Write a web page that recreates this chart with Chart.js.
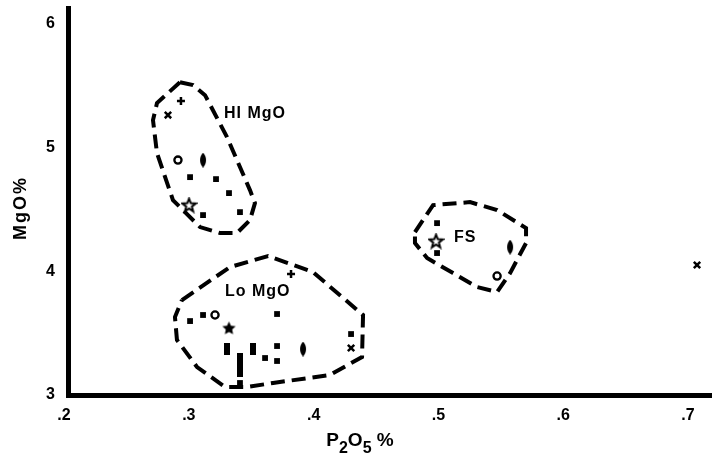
<!DOCTYPE html>
<html>
<head>
<meta charset="utf-8">
<script src="https://cdn.jsdelivr.net/npm/chart.js@4.4.1/dist/chart.umd.min.js"></script>
<style>
  html, body { margin: 0; padding: 0; background: #fff; }
</style>
</head>
<body>
<canvas id="chart" width="712" height="458"></canvas>
<script>
const xTicks = [0.2, 0.3, 0.4, 0.5, 0.6, 0.7];
const yTicks = [3, 4, 5, 6];

// [P2O5 %, MgO %]
const squarePts = [
  [0.2978, 4.762], [0.3186, 4.746], [0.3290, 4.633], [0.3082, 4.455], [0.3378, 4.479],
  [0.2978, 3.598], [0.3082, 3.647], [0.3675, 3.655], [0.3579, 3.299], [0.3675, 3.396],
  [0.3675, 3.275], [0.4268, 3.493], [0.3378, 3.097],
  [0.4957, 4.390], [0.4957, 4.148]
];
const openStarPts = [[0.2970, 4.536], [0.4949, 4.245]];
const solidStarPts = [[0.3290, 3.542]];
const plusPts = [[0.2905, 5.377], [0.3787, 3.978]];
const xPts = [[0.2801, 5.264], [0.4268, 3.380], [0.7040, 4.051]];
const circlePts = [[0.2881, 4.900], [0.3178, 3.647], [0.5438, 3.962]];
const lensPts = [[0.3082, 4.900], [0.3883, 3.372], [0.5542, 4.196]];
const barPts = [[0.3274, 3.372], [0.3482, 3.372]];
const columnPts = [[0.3378, 3.243]];

// dashed field outlines
const hiOutline = [
  [0.2897, 5.530], [0.2713, 5.361], [0.2681, 5.223], [0.2713, 4.956], [0.2841, 4.576],
  [0.3058, 4.358], [0.3218, 4.310], [0.3354, 4.310], [0.3458, 4.415], [0.3498, 4.552],
  [0.3458, 4.657], [0.3274, 5.086], [0.3098, 5.425], [0.3002, 5.506]
];
const loOutline = [
  [0.2913, 3.768], [0.3298, 4.035], [0.3603, 4.124], [0.3963, 3.994], [0.4364, 3.647],
  [0.4356, 3.307], [0.4099, 3.162], [0.3643, 3.097], [0.3434, 3.065], [0.3258, 3.065],
  [0.3034, 3.226], [0.2873, 3.445], [0.2857, 3.631]
];
const fsOutline = [
  [0.4780, 4.318], [0.4925, 4.536], [0.5221, 4.560], [0.5438, 4.496], [0.5670, 4.350],
  [0.5670, 4.229], [0.5542, 3.986], [0.5438, 3.833], [0.5277, 3.873], [0.5085, 3.986],
  [0.4877, 4.108], [0.4780, 4.229]
];

const groupNames = ['HI MgO', 'Lo MgO', 'FS'];
const groupNamePos = [[0.3250, 5.280], [0.3258, 3.833], [0.5093, 4.277]];

const FONT = '"Liberation Sans", Arial, sans-serif';

const toXY = arr => arr.map(([x, y]) => ({ x, y }));
const closed = arr => toXY(arr.concat([arr[0]]));

// little canvases used as point styles
const makeMark = (w, h, draw) => {
  const c = document.createElement('canvas');
  c.width = w; c.height = h;
  draw(c.getContext('2d'));
  return c;
};
const starPath = (g, cx, cy, R, r) => {
  g.beginPath();
  for (let i = 0; i < 10; i++) {
    const a = -Math.PI / 2 + i * Math.PI / 5;
    const rad = i % 2 ? r : R;
    g.lineTo(cx + rad * Math.cos(a), cy + rad * Math.sin(a));
  }
  g.closePath();
};
const openStar = makeMark(17, 17, g => {
  starPath(g, 8.5, 9, 7, 3);
  g.fillStyle = '#fff'; g.fill();
  g.lineWidth = 2; g.strokeStyle = '#000'; g.stroke();
});
const solidStar = makeMark(15, 15, g => {
  starPath(g, 7.5, 8, 7, 3.4);
  g.fillStyle = '#000'; g.fill();
});
const lens = makeMark(8, 15, g => {
  g.beginPath();
  g.moveTo(4, 0);
  g.bezierCurveTo(8, 4, 8, 11, 4, 15);
  g.bezierCurveTo(0, 11, 0, 4, 4, 0);
  g.fillStyle = '#000'; g.fill();
});
const bar = makeMark(6, 12, g => { g.fillStyle = '#000'; g.fillRect(0, 0, 6, 12); });
const column = makeMark(6, 24, g => { g.fillStyle = '#000'; g.fillRect(0, 0, 6, 24); });

const markSet = (pts, style, radius, extra) => Object.assign({
  data: toXY(pts),
  pointStyle: style,
  pointRadius: radius,
  pointBackgroundColor: '#000',
  pointBorderColor: '#000',
  pointBorderWidth: 0,
  showLine: false,
  order: 1
}, extra || {});

const outlineSet = pts => ({
  data: closed(pts),
  showLine: true,
  pointRadius: 0,
  borderColor: '#000',
  borderWidth: 4,
  borderDash: [14, 7],
  borderCapStyle: 'butt',
  tension: 0,
  fill: false,
  order: 2
});

// field names and the two axis titles (with real subscripts)
const textPlugin = {
  id: 'texts',
  afterDatasetsDraw(chart) {
    const { ctx, scales } = chart;
    ctx.save();
    ctx.fillStyle = '#000';
    ctx.textBaseline = 'middle';
    ctx.textAlign = 'left';
    ctx.font = 'bold 16px ' + FONT;
    ctx.letterSpacing = '1px';
    groupNames.forEach((name, i) => {
      const [x, y] = groupNamePos[i];
      ctx.fillText(name, scales.x.getPixelForValue(x), scales.y.getPixelForValue(y));
    });

    // x title: P2O5 %
    const parts = [['P', 0], ['2', 1], ['O', 0], ['5', 1], [' %', 0]];
    ctx.letterSpacing = '0px';
    ctx.textBaseline = 'alphabetic';
    let w = 0;
    parts.forEach(([t, sub]) => {
      ctx.font = 'bold ' + (sub ? 16 : 19) + 'px ' + FONT;
      w += ctx.measureText(t).width;
    });
    let px = 360 - w / 2;
    parts.forEach(([t, sub]) => {
      ctx.font = 'bold ' + (sub ? 16 : 19) + 'px ' + FONT;
      ctx.fillText(t, px, sub ? 453 : 446);
      px += ctx.measureText(t).width;
    });

    // y title: MgO%
    ctx.translate(21, 208);
    ctx.rotate(-Math.PI / 2);
    ctx.textAlign = 'center';
    ctx.textBaseline = 'middle';
    ctx.font = 'bold 18px ' + FONT;
    ctx.letterSpacing = '2px';
    ctx.fillText('MgO%', 0, 0);
    ctx.restore();
  }
};

const tickFont = { family: FONT, size: 16, weight: 'bold' };

new Chart(document.getElementById('chart'), {
  type: 'scatter',
  data: {
    datasets: [
      outlineSet(hiOutline),
      outlineSet(loOutline),
      outlineSet(fsOutline),
      markSet(squarePts, 'rect', 4.1),
      markSet(openStarPts, openStar, 4),
      markSet(solidStarPts, solidStar, 4),
      markSet(plusPts, 'cross', 4, { pointBorderWidth: 2.5 }),
      markSet(xPts, 'crossRot', 4.5, { pointBorderWidth: 2.5 }),
      markSet(circlePts, 'circle', 3.6, { pointBackgroundColor: '#fff', pointBorderWidth: 2.3 }),
      markSet(lensPts, lens, 4),
      markSet(barPts, bar, 4),
      markSet(columnPts, column, 4)
    ]
  },
  options: {
    responsive: false,
    animation: false,
    layout: { autoPadding: false, padding: { top: 8, right: 0, left: 0, bottom: 0 } },
    plugins: { legend: { display: false }, tooltip: { enabled: false } },
    scales: {
      x: {
        type: 'linear',
        min: 0.2,
        max: 0.716,
        afterBuildTicks: s => { s.ticks = xTicks.map(v => ({ value: v })); },
        afterFit: s => { s.height = 63; s.paddingLeft = 0; s.paddingRight = 0; },
        grid: { display: false, drawTicks: false },
        border: { display: true, color: '#000', width: 5 },
        ticks: {
          color: '#000',
          font: tickFont,
          padding: 11,
          labelOffset: -4,
          maxRotation: 0,
          callback: v => v.toFixed(1).replace('0.', '.')
        }
      },
      y: {
        min: 3,
        max: 6.13,
        afterBuildTicks: s => { s.ticks = yTicks.map(v => ({ value: v })); },
        afterFit: s => { s.width = 68; s.paddingTop = 0; s.paddingBottom = 0; },
        grid: { display: false, drawTicks: false },
        border: { display: true, color: '#000', width: 5 },
        ticks: { color: '#000', font: tickFont, padding: 13 }
      }
    }
  },
  plugins: [textPlugin]
});
</script>
</body>
</html>
